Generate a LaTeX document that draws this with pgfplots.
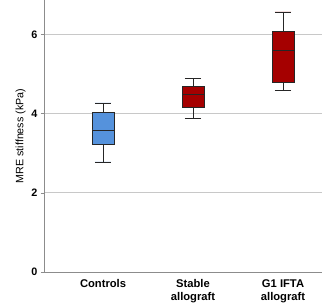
\documentclass[border=0pt]{standalone}
\usepackage{pgfplots}
\pgfplotsset{compat=1.18}
\usepgfplotslibrary{statistics}
\usepackage{fontspec}
\setmainfont{Liberation Sans}
\definecolor{boxblue}{HTML}{5592DC}
\definecolor{boxred}{HTML}{A50000}
\definecolor{axgray}{HTML}{8C8C8C}
\definecolor{gridgray}{HTML}{C8C8C8}
\begin{document}
\begin{tikzpicture}
\begin{axis}[
  at={(0,0)}, anchor=south west,
  scale only axis, width=278pt, height=272pt,
  xmin=-0.656, xmax=2.433,
  ymin=0, ymax=6.87,
  axis x line*=bottom, axis y line*=left,
  axis line style={axgray, line width=0.8pt},
  xtick={0,1,2},
  xticklabels={Controls, Stable\\allograft, G1 IFTA\\allograft},
  xticklabel style={align=center, font=\fontsize{11.2}{13}\selectfont\bfseries, yshift=-1pt},
  x tick label style={anchor=north},
  xtick style={draw=none},
  ytick={0,2,4,6},
  yticklabel style={font=\fontsize{10.8}{12}\selectfont\bfseries},
  /pgf/number format/assume math mode=true,
  ytick style={axgray, line width=0.6pt},
  tick align=outside, major tick length=3pt,
  ymajorgrids, grid style={gridgray, line width=0.7pt},
  ylabel={MRE stiffness (kPa)},
  ylabel style={font=\fontsize{10.7}{12}\selectfont, yshift=-1pt},
  clip=false,
  boxplot/draw direction=y,
  boxplot/box extend=0.244,
  boxplot/whisker extend=0.18,
]
\addplot+[boxplot prepared={draw position=0, lower whisker=2.78, lower quartile=3.22, median=3.59, upper quartile=4.02, upper whisker=4.27},
  fill=boxblue, draw=black!85, line width=0.7pt, mark=none] coordinates {};
\addplot+[boxplot prepared={draw position=1, lower whisker=3.88, lower quartile=4.17, median=4.48, upper quartile=4.68, upper whisker=4.88},
  fill=boxred, draw=black!85, line width=0.7pt, mark=none] coordinates {};
\addplot+[boxplot prepared={draw position=2, lower whisker=4.59, lower quartile=4.78, median=5.59, upper quartile=6.08, upper whisker=6.57},
  fill=boxred, draw=black!85, line width=0.7pt, mark=none] coordinates {};
\end{axis}
\pgfresetboundingbox
\path (-44pt,-33pt) rectangle (278pt,272pt);
\end{tikzpicture}
\end{document}
